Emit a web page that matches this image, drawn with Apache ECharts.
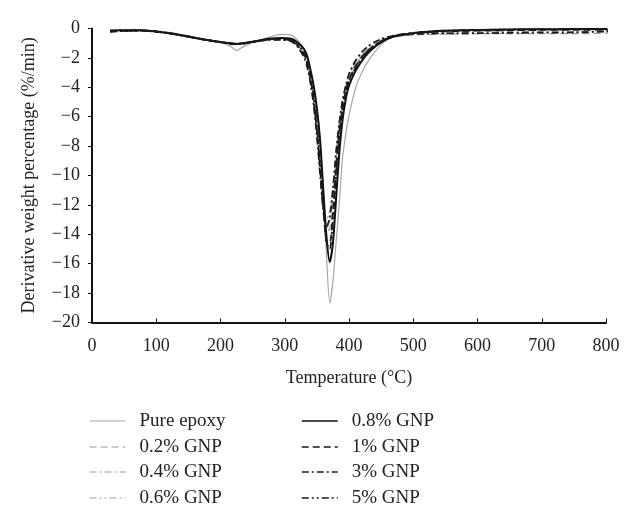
<!DOCTYPE html>
<html>
<head>
<meta charset="utf-8">
<script src="https://cdn.jsdelivr.net/npm/echarts@6/dist/echarts.min.js"></script>
<style>
html,body{margin:0;padding:0;background:#fff;}
#chart{width:626px;height:507px;}
</style>
</head>
<body>
<div id="chart"></div>
<script>
// Temperature (°C) sample points
const temps = [28, 50, 75, 100, 125, 150, 175, 200, 215, 225, 235, 250, 275, 295, 310, 320, 330, 335, 340, 345, 350, 355, 360, 365, 370, 375, 380, 385, 390, 395, 400, 410, 420, 430, 440, 450, 460, 475, 500, 525, 550, 600, 650, 700, 750, 800, 816];

const pureEpoxy = [-0.1, -0.1, -0.12, -0.18, -0.3, -0.5, -0.75, -0.95, -1.2, -1.5, -1.25, -0.95, -0.6, -0.4, -0.45, -0.8, -1.4, -2.0, -2.9, -4.0, -5.5, -7.6, -11.0, -15.5, -18.7, -17.2, -14.5, -11.8, -8.8, -7.2, -5.9, -4.1, -3.0, -2.2, -1.6, -1.1, -0.75, -0.5, -0.3, -0.2, -0.15, -0.1, -0.08, -0.07, -0.06, -0.05, -0.05];
const gnp02 = [-0.18, -0.14, -0.14, -0.2, -0.35, -0.55, -0.75, -0.9, -1.0, -1.05, -1.0, -0.9, -0.74, -0.7, -0.8, -1.1, -1.7, -2.3, -3.3, -4.8, -6.8, -9.4, -12.0, -13.9, -13.6, -11.8, -9.0, -6.8, -5.2, -4.1, -3.4, -2.5, -1.9, -1.45, -1.1, -0.85, -0.7, -0.55, -0.45, -0.4, -0.38, -0.36, -0.35, -0.35, -0.35, -0.32, -0.3];
const gnp04 = [-0.2, -0.15, -0.13, -0.2, -0.33, -0.52, -0.72, -0.9, -0.98, -1.02, -0.98, -0.88, -0.75, -0.75, -0.85, -1.2, -1.9, -2.6, -3.7, -5.2, -7.2, -9.8, -12.3, -13.0, -12.4, -10.6, -8.2, -6.3, -4.9, -3.9, -3.2, -2.3, -1.75, -1.35, -1.05, -0.8, -0.62, -0.45, -0.32, -0.27, -0.25, -0.23, -0.22, -0.22, -0.21, -0.2, -0.2];
const gnp06 = [-0.15, -0.12, -0.12, -0.19, -0.34, -0.54, -0.74, -0.92, -1.02, -1.08, -1.02, -0.9, -0.72, -0.7, -0.8, -1.1, -1.8, -2.4, -3.5, -5.0, -7.0, -9.6, -12.2, -13.6, -13.0, -11.2, -8.6, -6.5, -5.0, -4.0, -3.3, -2.4, -1.8, -1.4, -1.05, -0.8, -0.6, -0.42, -0.28, -0.2, -0.16, -0.12, -0.1, -0.09, -0.08, -0.08, -0.08];
const gnp08 = [-0.15, -0.12, -0.12, -0.2, -0.35, -0.55, -0.75, -0.92, -1.0, -1.05, -1.0, -0.9, -0.7, -0.65, -0.7, -0.95, -1.4, -1.9, -2.8, -3.9, -5.4, -7.6, -11.0, -14.2, -15.9, -14.6, -11.5, -8.4, -6.2, -4.8, -3.9, -2.9, -2.2, -1.65, -1.25, -0.95, -0.7, -0.5, -0.32, -0.22, -0.16, -0.1, -0.07, -0.05, -0.04, -0.03, -0.03];
const gnp1 = [-0.2, -0.16, -0.14, -0.21, -0.36, -0.56, -0.76, -0.93, -1.02, -1.06, -1.02, -0.92, -0.75, -0.72, -0.82, -1.15, -1.75, -2.4, -3.4, -4.9, -6.9, -9.5, -12.2, -14.5, -14.6, -12.6, -9.6, -7.1, -5.4, -4.3, -3.5, -2.6, -1.95, -1.5, -1.15, -0.88, -0.68, -0.48, -0.33, -0.24, -0.2, -0.15, -0.12, -0.1, -0.1, -0.08, -0.08];
const gnp3 = [-0.22, -0.17, -0.15, -0.22, -0.37, -0.57, -0.77, -0.94, -1.03, -1.08, -1.03, -0.93, -0.78, -0.78, -0.88, -1.25, -1.95, -2.6, -3.7, -5.2, -7.3, -9.9, -12.4, -13.5, -12.9, -11.0, -8.4, -6.4, -4.9, -3.9, -3.1, -2.2, -1.6, -1.2, -0.92, -0.72, -0.58, -0.45, -0.38, -0.35, -0.33, -0.32, -0.3, -0.28, -0.27, -0.2, -0.18];
const gnp5 = [-0.17, -0.13, -0.13, -0.2, -0.35, -0.55, -0.76, -0.93, -1.02, -1.07, -1.02, -0.9, -0.72, -0.7, -0.78, -1.1, -1.65, -2.2, -3.2, -4.6, -6.5, -9.1, -11.9, -14.6, -15.0, -13.0, -9.9, -7.3, -5.5, -4.4, -3.6, -2.7, -2.0, -1.5, -1.15, -0.88, -0.66, -0.46, -0.3, -0.2, -0.15, -0.1, -0.07, -0.05, -0.05, -0.04, 0.0];

const seriesNames = ['Pure epoxy', '0.2% GNP', '0.4% GNP', '0.6% GNP', '0.8% GNP', '1% GNP', '3% GNP', '5% GNP'];
const seriesValues = [pureEpoxy, gnp02, gnp04, gnp06, gnp08, gnp1, gnp3, gnp5];

const xTicks = { min: 0, max: 800, step: 100 };
const yTicks = { min: -20, max: 0, step: 2 };

// styles
const styles = [
  { color: '#a8a8a8', width: 1.2, type: 'solid' },
  { color: '#9a9a9a', width: 1.3, type: [7, 4] },
  { color: '#a0a0a0', width: 1.3, type: [7, 3, 2, 3] },
  { color: '#a0a0a0', width: 1.3, type: [7, 3, 2, 3, 2, 3] },
  { color: '#111111', width: 2.0, type: 'solid' },
  { color: '#1a1a1a', width: 1.8, type: [7, 4] },
  { color: '#1a1a1a', width: 1.8, type: [7, 3, 2, 3] },
  { color: '#1a1a1a', width: 1.8, type: [7, 3, 2, 3, 2, 3] }
];
const legendRowsTop = [411.5, 437.5, 462.5, 488.5];
const legendColsLeft = [89, 301];

const FONT = "'Liberation Serif', 'DejaVu Serif', serif";
const minus = v => (v < 0 ? '\u2212' + Math.abs(v) : String(v));

const series = seriesNames.map((name, i) => ({
  name: name,
  type: 'line',
  data: temps.map((t, j) => [t, seriesValues[i][j]]),
  symbol: 'none',
  smooth: 0.25,
  clip: false,
  z: i === 0 ? 1 : 2 + i,
  lineStyle: { color: styles[i].color, width: styles[i].width, type: styles[i].type },
  itemStyle: { color: styles[i].color }
}));

const legends = seriesNames.map((name, i) => ({
  data: [name],
  orient: 'horizontal',
  left: legendColsLeft[Math.floor(i / 4)],
  top: legendRowsTop[i % 4],
  itemWidth: 36,
  itemHeight: 14,
  itemGap: 0,
  padding: 0,
  itemStyle: { color: 'rgba(0,0,0,0)', borderWidth: 0, opacity: 0 },
  lineStyle: { width: i < 4 ? 1.1 : 1.5 },
  textStyle: { fontFamily: FONT, fontSize: 19, color: '#222', lineHeight: 18, padding: [0, 0, 0, 9] }
}));

const chart = echarts.init(document.getElementById('chart'), null, { renderer: 'canvas' });
chart.setOption({
  animation: false,
  backgroundColor: '#fff',
  grid: { left: 92, right: 20, top: 28.5, bottom: 184.7, containLabel: false },
  legend: legends,
  xAxis: {
    type: 'value',
    min: xTicks.min, max: xTicks.max, interval: xTicks.step,
    name: 'Temperature (\u00B0C)',
    nameLocation: 'middle',
    nameGap: 47,
    nameTextStyle: { fontFamily: FONT, fontSize: 18, color: '#222' },
    axisLine: { show: true, onZero: false, lineStyle: { color: '#111', width: 2 } },
    axisTick: { show: true, inside: true, length: 4, lineStyle: { color: '#111', width: 1 } },
    axisLabel: { margin: 15, fontFamily: FONT, fontSize: 18, color: '#222' },
    splitLine: { show: false }
  },
  yAxis: {
    type: 'value',
    min: yTicks.min, max: yTicks.max, interval: yTicks.step,
    name: 'Derivative weight percentage (%/min)',
    nameLocation: 'middle',
    nameGap: 54,
    nameTextStyle: { fontFamily: FONT, fontSize: 18, color: '#222' },
    axisLine: { show: true, onZero: false, lineStyle: { color: '#111', width: 2 } },
    axisTick: { show: true, inside: false, length: 4, lineStyle: { color: '#111', width: 1 } },
    axisLabel: { margin: 12, fontFamily: FONT, fontSize: 18, color: '#222', formatter: minus },
    splitLine: { show: false }
  },
  series: series
});
</script>
</body>
</html>
